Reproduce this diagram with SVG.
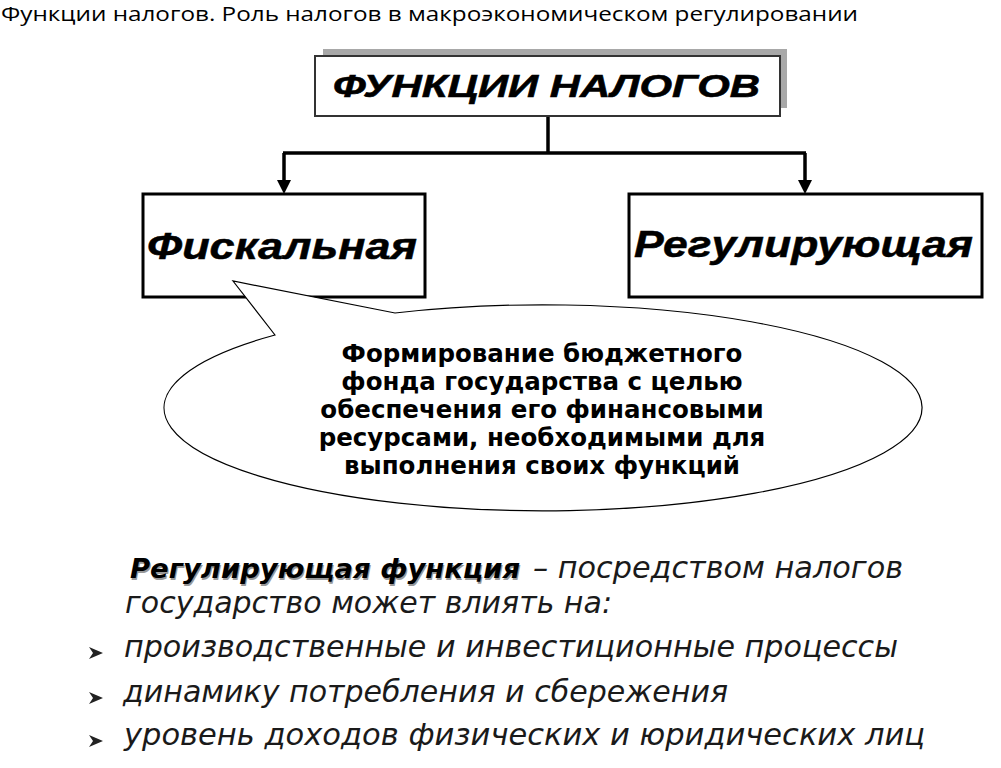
<svg xmlns="http://www.w3.org/2000/svg" width="1001" height="768" viewBox="0 0 1001 768">
<defs>
<style>
.box{fill:#fff;stroke:#000;stroke-width:3}
.conn{fill:none;stroke:#000;stroke-width:3.5}
.hb{font-family:"Liberation Sans",Arial,sans-serif;font-weight:bold;font-style:italic;fill:#000}
.cb{font-family:"DejaVu Sans",Verdana,sans-serif;font-weight:bold;fill:#000;font-size:24.5px;text-anchor:middle}
.it{font-family:"DejaVu Sans",Verdana,sans-serif;font-style:italic;fill:#1a1a1a;font-size:31px}
.bul{fill:#222}
</style>
</defs>
<rect width="1001" height="768" fill="#fff"/>
<text x="1" y="21" font-family="'Open Sans','Noto Sans',sans-serif" font-size="20" fill="#000" textLength="857" lengthAdjust="spacingAndGlyphs">Функции налогов. Роль налогов в макроэкономическом регулировании</text>

<g id="connectors">
<path class="conn" d="M548,116 V153"/>
<path class="conn" d="M283,153 H806"/>
<path class="conn" d="M284,153 V182"/>
<path class="conn" d="M805,153 V182"/>
<path d="M277,180 L291,180 L284,194 Z" fill="#000"/>
<path d="M798,180 L812,180 L805,194 Z" fill="#000"/>
</g>

<g id="node-title">
<rect x="323" y="49" width="464" height="59" fill="#a8a8a8"/>
<rect x="315" y="56" width="465" height="60" fill="#fff" stroke="#333" stroke-width="2"/>
<text class="hb" x="333" y="97" font-size="32" stroke="#000" stroke-width="0.6" textLength="427" lengthAdjust="spacingAndGlyphs">ФУНКЦИИ НАЛОГОВ</text>
</g>

<g id="node-fiscal">
<rect class="box" x="143" y="194" width="282" height="103"/>
<text class="hb" x="147" y="259" font-size="37" stroke="#000" stroke-width="0.5" textLength="270" lengthAdjust="spacingAndGlyphs">Фискальная</text>
</g>

<g id="node-regul">
<rect class="box" x="629" y="194" width="353" height="103"/>
<text class="hb" x="634" y="257" font-size="37" stroke="#000" stroke-width="0.5" textLength="339" lengthAdjust="spacingAndGlyphs">Регулирующая</text>
</g>

<g id="node-callout">
<path d="M275,335 L233,281 L395,313 A379 103 0 1 1 275,335 Z" fill="#fff" stroke="#000" stroke-width="1.2"/>
<text class="cb" x="542" y="362">Формирование бюджетного</text>
<text class="cb" x="542" y="390">фонда государства с целью</text>
<text class="cb" x="542" y="418">обеспечения его финансовыми</text>
<text class="cb" x="542" y="446">ресурсами, необходимыми для</text>
<text class="cb" x="542" y="474">выполнения своих функций</text>
</g>

<g id="node-text">
<text x="131" y="580" font-family="'DejaVu Sans',Verdana,sans-serif" font-weight="bold" font-style="italic" font-size="27" fill="#999" textLength="390" lengthAdjust="spacingAndGlyphs">Регулирующая функция</text>
<text x="130" y="578" font-family="'DejaVu Sans',Verdana,sans-serif" font-weight="bold" font-style="italic" font-size="27" fill="#000" textLength="390" lengthAdjust="spacingAndGlyphs">Регулирующая функция</text>
<text class="it" x="533" y="578" textLength="370" lengthAdjust="spacingAndGlyphs">– посредством налогов</text>
<text class="it" x="125" y="613" textLength="487" lengthAdjust="spacingAndGlyphs">государство может влиять на:</text>
<path class="bul" d="M89,647 L103,653 L89,659 L93,653 Z"/>
<text class="it" x="124" y="657" textLength="774" lengthAdjust="spacingAndGlyphs">производственные и инвестиционные процессы</text>
<path class="bul" d="M89,692 L103,698 L89,704 L93,698 Z"/>
<text class="it" x="123" y="702" textLength="605" lengthAdjust="spacingAndGlyphs">динамику потребления и сбережения</text>
<path class="bul" d="M89,735 L103,741 L89,747 L93,741 Z"/>
<text class="it" x="124" y="745" textLength="801" lengthAdjust="spacingAndGlyphs">уровень доходов физических и юридических лиц</text>
</g>
</svg>
